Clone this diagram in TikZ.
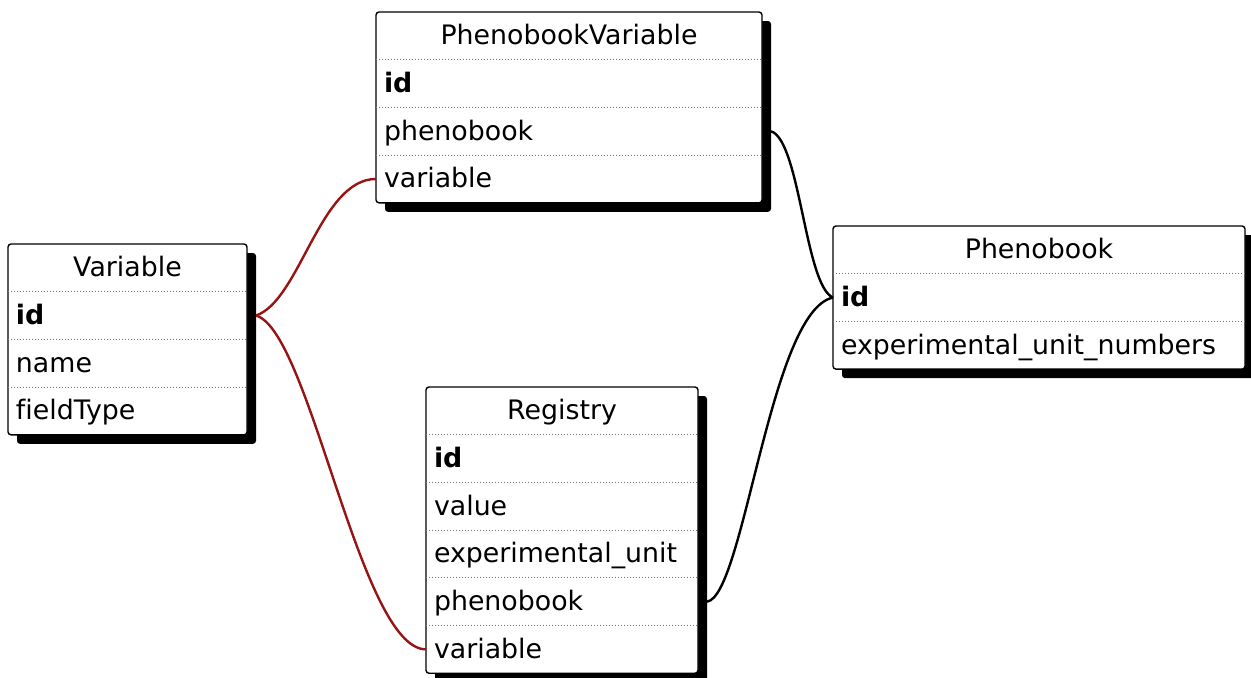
\documentclass[tikz,border=0pt]{standalone}
\usepackage{fontspec}
\setmainfont[Ligatures=NoCommon]{DejaVu Sans}
\usetikzlibrary{positioning,fit,shadows,backgrounds}
\definecolor{linkred}{RGB}{150,20,20}

\begin{document}
\begin{tikzpicture}[x=0.5pt,y=-0.5pt,thick,
  tblfield/.style={inner xsep=4pt,inner ysep=0pt,outer sep=0pt,minimum height=23.85pt,text height=11pt,text depth=2pt,align=left,text width=#1,font=\fontsize{13.4}{16}\selectfont},
  tblhead/.style={tblfield=#1,align=center},
  tblframe/.style={draw,line width=0.7pt,rounded corners=1.5pt,inner sep=0pt,fill=white,drop shadow={shadow xshift=4.5pt,shadow yshift=-4.5pt,fill=black,opacity=1}},
  rowsep/.style={densely dotted,black!55,line width=0.5pt},
  fklink/.style={line width=1.2pt}]
    \useasboundingbox (0,0) rectangle (1251,677);

    % Variable
    \node[tblhead=111.5pt,anchor=north west] (var) at (8,244) {Variable};
    \node[tblfield=111.5pt,below=0pt of var] (var-id) {\textbf{id}};
    \node[tblfield=111.5pt,below=0pt of var-id] (var-name) {name};
    \node[tblfield=111.5pt,below=0pt of var-name] (var-type) {fieldType};

    % PhenobookVariable
    \node[tblhead=185pt,anchor=north west] (pv) at (376,12) {PhenobookVariable};
    \node[tblfield=185pt,below=0pt of pv] (pv-id) {\textbf{id}};
    \node[tblfield=185pt,below=0pt of pv-id] (pv-pheno) {phenobook};
    \node[tblfield=185pt,below=0pt of pv-pheno] (pv-var) {variable};

    % Phenobook
    \node[tblhead=198pt,anchor=north west] (pb) at (833,226) {Phenobook};
    \node[tblfield=198pt,below=0pt of pb] (pb-id) {\textbf{id}};
    \node[tblfield=198pt,below=0pt of pb-id] (pb-units) {experimental\_unit\_numbers};

    % Registry
    \node[tblhead=128pt,anchor=north west] (reg) at (426,387) {Registry};
    \node[tblfield=128pt,below=0pt of reg] (reg-id) {\textbf{id}};
    \node[tblfield=128pt,below=0pt of reg-id] (reg-value) {value};
    \node[tblfield=128pt,below=0pt of reg-value] (reg-unit) {experimental\_unit};
    \node[tblfield=128pt,below=0pt of reg-unit] (reg-pheno) {phenobook};
    \node[tblfield=128pt,below=0pt of reg-pheno] (reg-var) {variable};

    \begin{scope}[on background layer]
        \node[tblframe,fit=(var)(var-type)] {};
        \node[tblframe,fit=(pv)(pv-var)] {};
        \node[tblframe,fit=(pb)(pb-units)] {};
        \node[tblframe,fit=(reg)(reg-var)] {};
    \end{scope}

    \foreach \r in {var-id,var-name,var-type,pv-id,pv-pheno,pv-var,pb-id,pb-units,reg-id,reg-value,reg-unit,reg-pheno,reg-var}
        \draw[rowsep] (\r.north west) -- (\r.north east);

    % foreign keys
    \draw[fklink,linkred] ([xshift=4.5pt]var-id.east) .. controls +(44,-15) and +(-56,0) .. (pv-var.west);
    \draw[fklink,linkred] ([xshift=4.5pt]var-id.east) .. controls +(54,15) and +(-66,0) .. (reg-var.west);
    \draw[fklink] ([xshift=4.5pt]pv-pheno.east) .. controls +(29,9) and +(-28,-12) .. (pb-id.west);
    \draw[fklink] ([xshift=4.5pt]reg-pheno.east) .. controls +(37,-5) and +(-63,13) .. (pb-id.west);
\end{tikzpicture}
\end{document}
